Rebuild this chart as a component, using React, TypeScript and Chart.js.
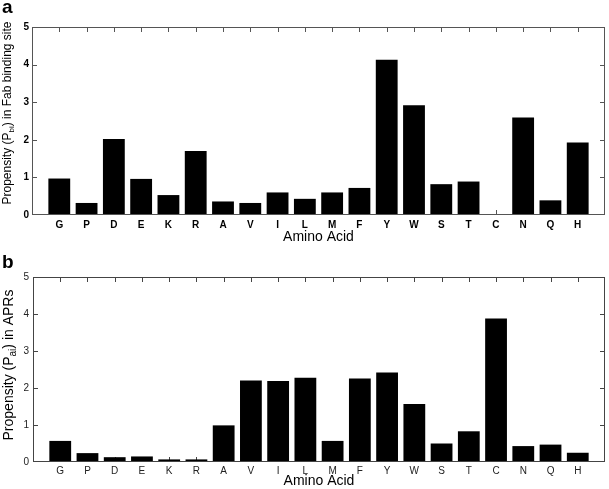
import React, { useEffect, useRef } from "react";
import { Chart, registerables } from "chart.js";

Chart.register(...registerables);

const aminoAcids = ["G", "P", "D", "E", "K", "R", "A", "V", "I", "L", "M", "F", "Y", "W", "S", "T", "C", "N", "Q", "H"];
const fabPropensity = [0.97, 0.32, 2.02, 0.96, 0.53, 1.70, 0.36, 0.32, 0.60, 0.43, 0.60, 0.72, 4.13, 2.92, 0.82, 0.89, 0, 2.59, 0.39, 1.93];
const aprPropensity = [0.57, 0.24, 0.13, 0.15, 0.07, 0.07, 0.99, 2.20, 2.19, 2.28, 0.57, 2.26, 2.42, 1.57, 0.50, 0.83, 3.88, 0.43, 0.47, 0.25];
const yTicks = [0, 1, 2, 3, 4, 5];
const xAxisTitle = "Amino Acid";

const FONT = '"Liberation Sans", Arial, sans-serif';

type PanelCfg = {
  values: number[];
  width: number;
  height: number;
  padTop: number;
  padRight: number;
  yAxisWidth: number;
  xAxisHeight: number;
  tickFont: { size: number; weight: string };
  tickColor: string;
  xTickPad: number;
  yTickPad: number;
  frameColor: string;
  letter: string;
  letterY: number;
  titleBefore: string;
  titleSub: string;
  titleAfter: string;
  yTitleSize: number;
  yTitleX: number;
  yTitleY: number;
  xTitleY: number;
};

const panelA: PanelCfg = {
  values: fabPropensity,
  width: 609,
  height: 245,
  padTop: 27,
  padRight: 1,
  yAxisWidth: 32,
  xAxisHeight: 30,
  tickFont: { size: 10, weight: "bold" },
  tickColor: "#000",
  xTickPad: 4,
  yTickPad: 3,
  frameColor: "#555",
  letter: "a",
  letterY: 13,
  titleBefore: "Propensity (P",
  titleSub: "bi",
  titleAfter: ") in Fab binding site",
  yTitleSize: 12,
  yTitleX: 8,
  yTitleY: 113,
  xTitleY: 237,
};

const panelB: PanelCfg = {
  values: aprPropensity,
  width: 609,
  height: 244,
  padTop: 32,
  padRight: 4,
  yAxisWidth: 33,
  xAxisHeight: 27,
  tickFont: { size: 10, weight: "normal" },
  tickColor: "#222",
  xTickPad: 3,
  yTickPad: 4,
  frameColor: "#444",
  letter: "b",
  letterY: 23,
  titleBefore: "Propensity (P",
  titleSub: "ai",
  titleAfter: ") in APRs",
  yTitleSize: 14,
  yTitleX: 9,
  yTitleY: 120,
  xTitleY: 236,
};

function makeDecor(cfg: PanelCfg) {
  return {
    id: "decor",
    beforeDatasetsDraw(chart: any) {
      const { ctx, chartArea: a, scales } = chart;
      const x = scales.x;
      const y = scales.y;
      ctx.save();
      ctx.strokeStyle = cfg.frameColor;
      ctx.lineWidth = 1;
      ctx.beginPath();
      for (let i = 1; i <= aminoAcids.length; i++) {
        const px = Math.round(x.getPixelForValue(i)) + 0.5;
        ctx.moveTo(px, a.top);
        ctx.lineTo(px, a.top + 5);
        ctx.moveTo(px, a.bottom);
        ctx.lineTo(px, a.bottom - 5);
      }
      for (const t of yTicks) {
        if (t === yTicks[0] || t === yTicks[yTicks.length - 1]) continue;
        const py = Math.round(y.getPixelForValue(t)) + 0.5;
        ctx.moveTo(a.left, py);
        ctx.lineTo(a.left + 5, py);
        ctx.moveTo(a.right, py);
        ctx.lineTo(a.right - 5, py);
      }
      ctx.stroke();
      ctx.restore();
    },
    afterDraw(chart: any) {
      const { ctx, chartArea: a } = chart;
      ctx.save();
      ctx.strokeStyle = cfg.frameColor;
      ctx.lineWidth = 1;
      ctx.strokeRect(a.left + 0.5, a.top + 0.5, a.right - a.left - 1, a.bottom - a.top - 1);
      ctx.fillStyle = "#000";
      ctx.font = `14px ${FONT}`;
      ctx.textAlign = "center";
      ctx.textBaseline = "middle";
      ctx.fillText(xAxisTitle, (a.left + a.right) / 2, cfg.xTitleY);
      ctx.font = `bold 19px ${FONT}`;
      ctx.textAlign = "left";
      ctx.textBaseline = "alphabetic";
      ctx.fillText(cfg.letter, 2, cfg.letterY);
      const f = cfg.yTitleSize;
      const sf = Math.round(f * 0.7);
      ctx.font = `${f}px ${FONT}`;
      const w1 = ctx.measureText(cfg.titleBefore).width;
      const w3 = ctx.measureText(cfg.titleAfter).width;
      ctx.font = `${sf}px ${FONT}`;
      const w2 = ctx.measureText(cfg.titleSub).width;
      const total = w1 + w2 + w3;
      ctx.translate(cfg.yTitleX, cfg.yTitleY);
      ctx.rotate(-Math.PI / 2);
      ctx.textBaseline = "middle";
      let cx = -total / 2;
      ctx.font = `${f}px ${FONT}`;
      ctx.fillText(cfg.titleBefore, cx, 0);
      cx += w1;
      ctx.font = `${sf}px ${FONT}`;
      ctx.fillText(cfg.titleSub, cx, f * 0.3);
      cx += w2;
      ctx.font = `${f}px ${FONT}`;
      ctx.fillText(cfg.titleAfter, cx, 0);
      ctx.restore();
    },
  };
}

function buildChart(canvas: HTMLCanvasElement, cfg: PanelCfg) {
  const data = cfg.values.map((v, i) => ({ x: i + 1, y: v }));
  return new Chart(canvas, {
    type: "bar",
    data: {
      datasets: [
        {
          data: data as any,
          backgroundColor: "#000",
          borderColor: "#000",
          borderWidth: 0,
          barPercentage: 0.8,
          categoryPercentage: 1,
        },
      ],
    },
    options: {
      responsive: false,
      animation: false,
      events: [],
      layout: { padding: { top: cfg.padTop, right: cfg.padRight, left: 0, bottom: 0 } },
      plugins: { legend: { display: false }, tooltip: { enabled: false }, title: { display: false } },
      scales: {
        x: {
          type: "linear",
          offset: false,
          min: 0,
          max: aminoAcids.length + 1,
          grid: { display: false, drawTicks: false },
          border: { display: false },
          afterFit: (s: any) => {
            s.height = cfg.xAxisHeight;
          },
          afterBuildTicks: (s: any) => {
            const ticks = [];
            for (let i = 0; i <= aminoAcids.length + 1; i++) ticks.push({ value: i });
            s.ticks = ticks;
          },
          ticks: {
            autoSkip: false,
            maxRotation: 0,
            minRotation: 0,
            padding: cfg.xTickPad,
            color: cfg.tickColor,
            font: { family: FONT, size: cfg.tickFont.size, weight: cfg.tickFont.weight as any },
            callback: (v: any) => aminoAcids[Number(v) - 1] ?? "",
          },
        },
        y: {
          type: "linear",
          min: yTicks[0],
          max: yTicks[yTicks.length - 1],
          grid: { display: false, drawTicks: false },
          border: { display: false },
          afterFit: (s: any) => {
            s.width = cfg.yAxisWidth;
          },
          ticks: {
            stepSize: 1,
            padding: cfg.yTickPad,
            color: cfg.tickColor,
            font: { family: FONT, size: cfg.tickFont.size, weight: cfg.tickFont.weight as any },
          },
        },
      },
    },
    plugins: [makeDecor(cfg)],
  });
}

function Panel({ cfg, top }: { cfg: PanelCfg; top: number }) {
  const ref = useRef<HTMLCanvasElement | null>(null);
  useEffect(() => {
    if (!ref.current) return;
    const chart = buildChart(ref.current, cfg);
    return () => chart.destroy();
  }, [cfg]);
  return (
    <canvas
      ref={ref}
      width={cfg.width}
      height={cfg.height}
      style={{ position: "absolute", left: 0, top, width: cfg.width, height: cfg.height, display: "block" }}
    />
  );
}

export default function App() {
  return (
    <div style={{ position: "fixed", left: 0, top: 0, width: 609, height: 489, background: "#fff" }}>
      <Panel cfg={panelA} top={0} />
      <Panel cfg={panelB} top={245} />
    </div>
  );
}
